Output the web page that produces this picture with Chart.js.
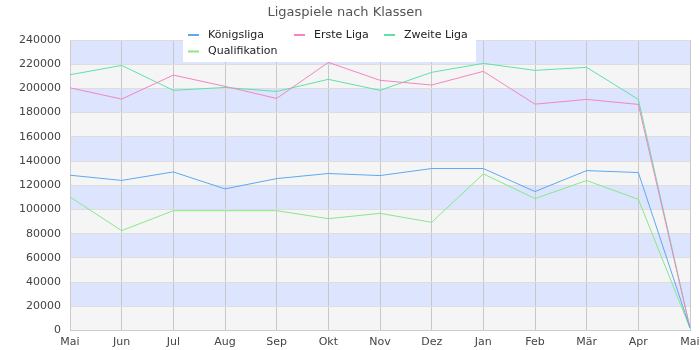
<!DOCTYPE html>
<html>
<head>
<meta charset="utf-8">
<script src="https://cdn.jsdelivr.net/npm/chart.js@4/dist/chart.umd.min.js"></script>
<style>
  html, body { margin: 0; padding: 0; background: #ffffff; }
  #wrap { width: 700px; height: 350px; }
</style>
</head>
<body>
<div id="wrap"><canvas id="chart" width="700" height="350"></canvas></div>
<script>
const months = ['Mai', 'Jun', 'Jul', 'Aug', 'Sep', 'Okt', 'Nov', 'Dez', 'Jan', 'Feb', 'Mär', 'Apr', 'Mai'];

const koenigsliga   = [128300, 124000, 131000, 117000, 125500, 129700, 128000, 133800, 133800, 114800, 132100, 130500, 2000];
const ersteLiga     = [200500, 191200, 211000, 201700, 191700, 221500, 206700, 202800, 214100, 187000, 190900, 186800, 2000];
const zweiteLiga    = [211300, 219000, 198400, 200800, 197500, 207500, 198400, 213300, 220700, 214900, 217400, 190900, 2000];
const qualifikation = [110300, 82500, 99000, 99000, 99000, 92400, 96800, 89400, 129400, 109000, 123900, 108400, 2000];

const seriesNames  = ['Königsliga', 'Erste Liga', 'Zweite Liga', 'Qualifikation'];
const seriesColors = ['#5ea8f2', '#f286c0', '#5ee2a8', '#88e888'];

const FONT = '"DejaVu Sans", sans-serif';

// Alternating horizontal bands behind the plot
const bandPlugin = {
  id: 'bands',
  beforeDraw(chart) {
    const { ctx, chartArea: a, scales: { y } } = chart;
    ctx.save();
    const step = 20000;
    for (let v = 0, i = 0; v < y.max; v += step, i++) {
      const top = y.getPixelForValue(v + step);
      const bot = y.getPixelForValue(v);
      ctx.fillStyle = (i % 2 === 0) ? '#f5f5f5' : '#dde4fd';
      ctx.fillRect(a.left, top, a.right - a.left, bot - top);
    }
    ctx.restore();
  }
};

// Legend box with white background, laid over the top of the plot
const legendPlugin = {
  id: 'boxLegend',
  afterDatasetsDraw(chart) {
    const { ctx } = chart;
    ctx.save();
    ctx.fillStyle = '#ffffff';
    ctx.fillRect(183, 22, 293, 40);
    const items = [
      { x: 188, y: 35 }, { x: 294, y: 35 }, { x: 384, y: 35 }, { x: 188, y: 51.5 }
    ];
    ctx.font = '11px ' + FONT;
    ctx.textBaseline = 'middle';
    ctx.textAlign = 'left';
    chart.data.datasets.forEach((ds, i) => {
      const it = items[i];
      ctx.strokeStyle = ds.borderColor;
      ctx.lineWidth = 2;
      ctx.beginPath();
      ctx.moveTo(it.x, it.y);
      ctx.lineTo(it.x + 11, it.y);
      ctx.stroke();
      ctx.fillStyle = '#222222';
      ctx.fillText(ds.label, it.x + 20, it.y);
    });
    ctx.restore();
  }
};

const datasets = [koenigsliga, ersteLiga, zweiteLiga, qualifikation].map((d, i) => ({
  label: seriesNames[i],
  data: d,
  borderColor: seriesColors[i],
  backgroundColor: seriesColors[i],
  borderWidth: 1,
  pointRadius: 0,
  tension: 0,
  fill: false
}));

new Chart(document.getElementById('chart'), {
  type: 'line',
  data: { labels: months, datasets },
  plugins: [bandPlugin, legendPlugin],
  options: {
    responsive: false,
    animation: false,
    layout: { padding: { left: 0, right: 10, top: 0, bottom: 0 } },
    plugins: {
      legend: { display: false },
      tooltip: { enabled: false },
      title: {
        display: true,
        text: 'Ligaspiele nach Klassen',
        color: '#555555',
        font: { family: FONT, size: 13, weight: 'normal' },
        padding: { top: 5, bottom: 19.4 }
      }
    },
    scales: {
      x: {
        offset: false,
        grid: { color: '#c8c8c8', lineWidth: 1, drawTicks: false },
        border: { color: '#cccccc' },
        ticks: {
          color: '#444444',
          font: { family: FONT, size: 11 },
          padding: 5,
          maxRotation: 0,
          autoSkip: false
        },
        afterFit(scale) {
          scale.height = 19.5;
          scale.paddingLeft = 0;
          scale.paddingRight = 0;
        }
      },
      y: {
        min: 0,
        max: 240000,
        grid: { color: '#dddddd', lineWidth: 1, drawTicks: false },
        border: { color: '#cccccc' },
        ticks: {
          stepSize: 20000,
          color: '#444444',
          font: { family: FONT, size: 11 },
          padding: 9,
          callback: v => String(v)
        },
        afterFit(scale) {
          scale.width = 70;
          scale.paddingTop = 0;
          scale.paddingBottom = 0;
        }
      }
    }
  }
});
</script>
</body>
</html>
